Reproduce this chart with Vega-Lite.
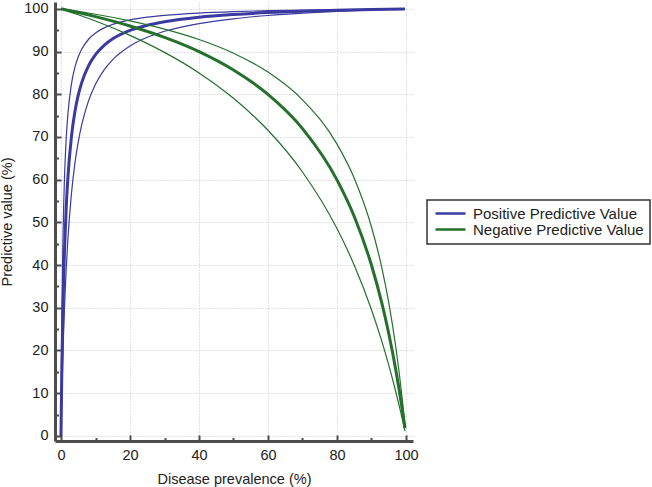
{
  "$schema": "https://vega.github.io/schema/vega-lite/v6.json",
  "width": 358,
  "height": 439,
  "autosize": {"type": "none"},
  "padding": {"left": 55, "top": 2, "right": 239, "bottom": 46},
  "background": "white",
  "config": {
    "view": {"stroke": null},
    "font": "Liberation Sans",
    "legend": {"strokeWidth": 1.5},
    "axis": {
      "domainColor": "#4d4d4d",
      "domainWidth": 3,
      "tickColor": "#4d4d4d",
      "tickWidth": 2,
      "gridColor": "#c4c4c4",
      "gridDash": [1, 2],
      "gridWidth": 1,
      "labelFontSize": 14.5,
      "labelColor": "#222222",
      "titleFontSize": 14.5,
      "titleFontWeight": "normal",
      "titleColor": "#222222"
    }
  },
  "data": {
    "values": [
      {"m": "Positive Predictive Value", "p": 0, "mid": 0, "lo": 0, "hi": 0},
      {"m": "Positive Predictive Value", "p": 0.1, "mid": 6.98, "lo": 4.03, "hi": 13.05},
      {"m": "Positive Predictive Value", "p": 0.25, "mid": 15.82, "lo": 9.52, "hi": 27.32},
      {"m": "Positive Predictive Value", "p": 0.5, "mid": 27.37, "lo": 17.43, "hi": 42.98},
      {"m": "Positive Predictive Value", "p": 0.75, "mid": 36.17, "lo": 24.09, "hi": 53.13},
      {"m": "Positive Predictive Value", "p": 1, "mid": 43.1, "lo": 29.79, "hi": 60.24},
      {"m": "Positive Predictive Value", "p": 1.5, "mid": 53.32, "lo": 39.01, "hi": 69.55},
      {"m": "Positive Predictive Value", "p": 2, "mid": 60.48, "lo": 46.15, "hi": 75.38},
      {"m": "Positive Predictive Value", "p": 3, "mid": 69.88, "lo": 56.5, "hi": 82.27},
      {"m": "Positive Predictive Value", "p": 4, "mid": 75.76, "lo": 63.64, "hi": 86.21},
      {"m": "Positive Predictive Value", "p": 5, "mid": 79.79, "lo": 68.85, "hi": 88.76},
      {"m": "Positive Predictive Value", "p": 6, "mid": 82.72, "lo": 72.83, "hi": 90.54},
      {"m": "Positive Predictive Value", "p": 8, "mid": 86.71, "lo": 78.5, "hi": 92.88},
      {"m": "Positive Predictive Value", "p": 10, "mid": 89.29, "lo": 82.35, "hi": 94.34},
      {"m": "Positive Predictive Value", "p": 12.5, "mid": 91.46, "lo": 85.71, "hi": 95.54},
      {"m": "Positive Predictive Value", "p": 15, "mid": 92.98, "lo": 88.11, "hi": 96.36},
      {"m": "Positive Predictive Value", "p": 20, "mid": 94.94, "lo": 91.3, "hi": 97.4},
      {"m": "Positive Predictive Value", "p": 25, "mid": 96.15, "lo": 93.33, "hi": 98.04},
      {"m": "Positive Predictive Value", "p": 30, "mid": 96.98, "lo": 94.74, "hi": 98.47},
      {"m": "Positive Predictive Value", "p": 40, "mid": 98.04, "lo": 96.55, "hi": 99.01},
      {"m": "Positive Predictive Value", "p": 50, "mid": 98.68, "lo": 97.67, "hi": 99.34},
      {"m": "Positive Predictive Value", "p": 60, "mid": 99.12, "lo": 98.44, "hi": 99.56},
      {"m": "Positive Predictive Value", "p": 70, "mid": 99.43, "lo": 98.99, "hi": 99.72},
      {"m": "Positive Predictive Value", "p": 80, "mid": 99.67, "lo": 99.41, "hi": 99.83},
      {"m": "Positive Predictive Value", "p": 90, "mid": 99.85, "lo": 99.74, "hi": 99.93},
      {"m": "Positive Predictive Value", "p": 99.7, "mid": 99.99, "lo": 99.98, "hi": 100},
      {"m": "Negative Predictive Value", "p": 0, "mid": 100, "lo": 100, "hi": 100},
      {"m": "Negative Predictive Value", "p": 5, "mid": 99.13, "lo": 98.62, "hi": 99.39},
      {"m": "Negative Predictive Value", "p": 10, "mid": 98.18, "lo": 97.14, "hi": 98.73},
      {"m": "Negative Predictive Value", "p": 20, "mid": 95.99, "lo": 93.79, "hi": 97.18},
      {"m": "Negative Predictive Value", "p": 30, "mid": 93.32, "lo": 89.8, "hi": 95.26},
      {"m": "Negative Predictive Value", "p": 40, "mid": 90, "lo": 85, "hi": 92.82},
      {"m": "Negative Predictive Value", "p": 50, "mid": 85.69, "lo": 79.05, "hi": 89.61},
      {"m": "Negative Predictive Value", "p": 60, "mid": 79.97, "lo": 71.56, "hi": 85.18},
      {"m": "Negative Predictive Value", "p": 70, "mid": 71.96, "lo": 61.79, "hi": 78.7},
      {"m": "Negative Predictive Value", "p": 80, "mid": 59.95, "lo": 48.54, "hi": 68.31},
      {"m": "Negative Predictive Value", "p": 85, "mid": 51.38, "lo": 39.97, "hi": 60.34},
      {"m": "Negative Predictive Value", "p": 90, "mid": 39.95, "lo": 29.54, "hi": 48.92},
      {"m": "Negative Predictive Value", "p": 93, "mid": 31.07, "lo": 22.12, "hi": 39.35},
      {"m": "Negative Predictive Value", "p": 95, "mid": 23.96, "lo": 16.57, "hi": 31.21},
      {"m": "Negative Predictive Value", "p": 97, "mid": 15.63, "lo": 10.45, "hi": 21.05},
      {"m": "Negative Predictive Value", "p": 98, "mid": 10.89, "lo": 7.15, "hi": 14.96},
      {"m": "Negative Predictive Value", "p": 99, "mid": 5.7, "lo": 3.67, "hi": 8.01},
      {"m": "Negative Predictive Value", "p": 99.7, "mid": 1.77, "lo": 1.12, "hi": 2.53}
    ]
  },
  "transform": [{"fold": ["mid", "lo", "hi"], "as": ["b", "v"]}],
  "layer": [
    {
      "mark": {"type": "line", "interpolate": "monotone"},
      "encoding": {
        "x": {
          "field": "p", "type": "quantitative",
          "scale": {"domain": [-1.74, 102.03], "nice": false, "zero": false},
          "axis": {
            "values": [0, 20, 40, 60, 80, 100],
            "grid": true,
            "tickSize": -6,
            "labelPadding": 13,
            "title": "Disease prevalence (%)",
            "titlePadding": 11
          }
        },
        "y": {
          "field": "v", "type": "quantitative",
          "scale": {"domain": [-1.2, 101.6], "nice": false, "zero": false},
          "axis": {
            "values": [0, 10, 20, 30, 40, 50, 60, 70, 80, 90, 100],
            "grid": true,
            "tickSize": -6,
            "labelPadding": 13,
            "title": "Predictive value (%)",
            "titlePadding": 9
          }
        },
        "color": {
          "field": "m", "type": "nominal",
          "scale": {
            "domain": ["Positive Predictive Value", "Negative Predictive Value"],
            "range": ["#3a3aa0", "#24702c"]
          },
          "legend": {
            "title": null,
            "orient": "none",
            "legendX": 372,
            "legendY": 198,
            "symbolType": "M-3,0H3",
            "symbolSize": 100,
            "symbolStrokeWidth": 2.5,
            "symbolOffset": 10,
            "labelFontSize": 15,
            "labelColor": "#222222",
            "labelLimit": 400,
            "labelOffset": 15,
            "padding": 6,
            "rowPadding": 0,
            "strokeColor": "#333333"
          }
        },
        "strokeWidth": {
          "field": "b", "type": "nominal",
          "scale": {"type": "ordinal", "domain": ["mid", "lo", "hi"], "range": [3, 1.2, 1.2]},
          "legend": null
        },
        "detail": {"field": "b"}
      }
    },
    {
      "mark": {"type": "line", "strokeOpacity": 0},
      "encoding": {
        "x": {
          "field": "p", "type": "quantitative",
          "scale": {"domain": [-1.74, 102.03], "nice": false, "zero": false},
          "axis": {
            "orient": "bottom",
            "values": [10, 30, 50, 70, 90],
            "grid": false, "domain": false, "labels": false,
            "tickSize": -3.5, "title": null
          }
        },
        "y": {
          "field": "v", "type": "quantitative",
          "scale": {"domain": [-1.2, 101.6], "nice": false, "zero": false},
          "axis": {
            "orient": "left",
            "values": [5, 15, 25, 35, 45, 55, 65, 75, 85, 95],
            "grid": false, "domain": false, "labels": false,
            "tickSize": -3.5, "title": null
          }
        },
        "detail": [{"field": "m"}, {"field": "b"}]
      }
    }
  ],
  "resolve": {"axis": {"x": "independent", "y": "independent"}}
}
